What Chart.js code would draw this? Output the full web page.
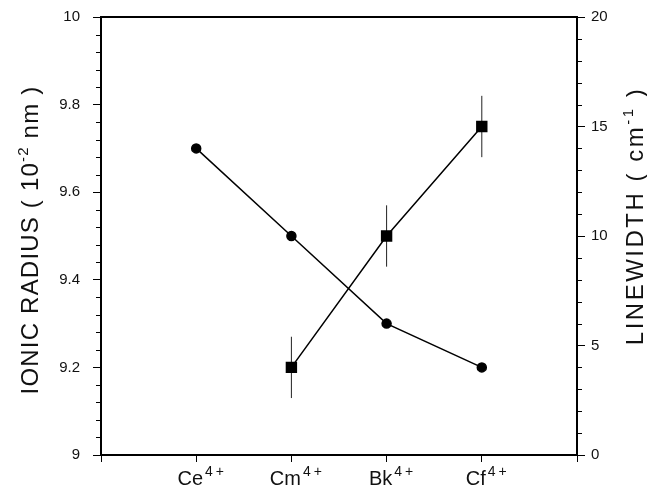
<!DOCTYPE html>
<html>
<head>
<meta charset="utf-8">
<script src="https://cdn.jsdelivr.net/npm/chart.js@4.4.1/dist/chart.umd.min.js"></script>
<style>
  html, body { margin: 0; padding: 0; background: #fff; }
  #wrap { width: 647px; height: 487px; }
</style>
</head>
<body>
<div id="wrap"><canvas id="ionChart" width="647" height="487"></canvas></div>
<script>
// ions along the x axis (blank slots at both ends)
var ions = ['Ce', 'Cm', 'Bk', 'Cf'];
var ionCharge = '4+';
var slots = [''].concat(ions, [' ']);

// ionic radius, 10^-2 nm (left axis)
var radius = [9.7, 9.5, 9.3, 9.2];

// linewidth, cm^-1 (right axis), only measured for Cm, Bk, Cf
var widthIons = ['Cm', 'Bk', 'Cf'];
var linewidth = [4, 10, 15];
var linewidthErr = [1.4, 1.4, 1.4];

var radiusTicks = { min: 9, max: 10, step: 0.2, minor: 0.04 };
var widthTicks = { min: 0, max: 20, step: 5, minor: 1 };

var FONT = '"Liberation Sans", Arial, Helvetica, sans-serif';

// keep the plot box fixed: no extra room for end labels
function noOverflow(s) {
  s.paddingTop = 0;
  s.paddingBottom = 0;
  s.paddingLeft = 0;
  s.paddingRight = 0;
}

// minor ticks, top frame line, error bars and the text with superscripts
var extras = {
  id: 'extras',
  beforeDatasetsDraw: function (chart) {
    var ctx = chart.ctx;
    var x = chart.scales.x, y2 = chart.scales.y2;
    ctx.save();
    ctx.strokeStyle = '#222';
    ctx.lineWidth = 1;
    for (var i = 0; i < widthIons.length; i++) {
      var px = x.getPixelForValue(slots.indexOf(widthIons[i]));
      ctx.beginPath();
      ctx.moveTo(px, y2.getPixelForValue(linewidth[i] + linewidthErr[i]));
      ctx.lineTo(px, y2.getPixelForValue(linewidth[i] - linewidthErr[i]));
      ctx.stroke();
    }
    ctx.restore();
  },
  afterDraw: function (chart) {
    var ctx = chart.ctx;
    var a = chart.chartArea;
    var x = chart.scales.x, y = chart.scales.y, y2 = chart.scales.y2;
    ctx.save();

    // top edge of the frame
    ctx.strokeStyle = '#000';
    ctx.lineWidth = 2;
    ctx.beginPath();
    ctx.moveTo(a.left - 1, a.top);
    ctx.lineTo(a.right + 1, a.top);
    ctx.stroke();

    // minor ticks
    ctx.lineWidth = 1;
    var v, p;
    for (v = radiusTicks.min; v <= radiusTicks.max + 1e-9; v += radiusTicks.minor) {
      var r = Math.round(v / radiusTicks.step * 1000) / 1000;
      if (Math.abs(r - Math.round(r)) < 1e-6) continue;
      p = Math.round(y.getPixelForValue(v)) + 0.5;
      ctx.beginPath();
      ctx.moveTo(a.left - 5, p);
      ctx.lineTo(a.left, p);
      ctx.stroke();
    }
    for (v = widthTicks.min; v <= widthTicks.max; v += widthTicks.minor) {
      if (v % widthTicks.step === 0) continue;
      p = Math.round(y2.getPixelForValue(v)) + 0.5;
      ctx.beginPath();
      ctx.moveTo(a.right, p);
      ctx.lineTo(a.right + 5, p);
      ctx.stroke();
    }

    ctx.fillStyle = '#111';
    ctx.textBaseline = 'alphabetic';

    // ion labels with charge superscript
    for (var i = 0; i < ions.length; i++) {
      var cx = x.getPixelForValue(i + 1) + 6;
      ctx.font = '20px ' + FONT;
      var wb = ctx.measureText(ions[i]).width;
      ctx.font = '14px ' + FONT;
      ctx.letterSpacing = '3px';
      var ws = ctx.measureText(ionCharge).width;
      var x0 = cx - (wb + 2 + ws) / 2;
      ctx.letterSpacing = '0px';
      ctx.font = '20px ' + FONT;
      ctx.textAlign = 'left';
      ctx.fillText(ions[i], x0, 485);
      ctx.font = '14px ' + FONT;
      ctx.letterSpacing = '3px';
      ctx.fillText(ionCharge, x0 + wb + 2, 476);
      ctx.letterSpacing = '0px';
    }

    // rotated axis titles: [text, superscript, text]
    function title(parts, bx, cy, size, spacing) {
      ctx.save();
      ctx.translate(bx, cy);
      ctx.rotate(-Math.PI / 2);
      ctx.letterSpacing = spacing + 'px';
      var big = size + 'px ' + FONT, small = Math.round(size * 0.62) + 'px ' + FONT;
      ctx.font = big; var w0 = ctx.measureText(parts[0]).width;
      ctx.font = small; var w1 = ctx.measureText(parts[1]).width;
      ctx.font = big; var w2 = ctx.measureText(parts[2]).width;
      var sx = -(w0 + w1 + w2) / 2;
      ctx.textAlign = 'left';
      ctx.font = big; ctx.fillText(parts[0], sx, 0);
      ctx.font = small; ctx.fillText(parts[1], sx + w0, -size * 0.42);
      ctx.font = big; ctx.fillText(parts[2], sx + w0 + w1, 0);
      ctx.restore();
    }
    title(['IONIC RADIUS ( 10', '-2', ' nm )'], 38, 240, 24, 1.2);
    title(['LINEWIDTH ( cm', '-1', ' )'], 643, 216, 24, 2.5);

    ctx.restore();
  }
};

var ionChart = new Chart(document.getElementById('ionChart'), {
  type: 'line',
  data: {
    labels: slots,
    datasets: [{
      label: 'Ionic radius',
      yAxisID: 'y',
      data: ions.map(function (c, i) { return { x: c, y: radius[i] }; }),
      borderColor: '#000',
      backgroundColor: '#000',
      borderWidth: 1.5,
      pointStyle: 'circle',
      pointRadius: 4.5,
      pointHoverRadius: 4.5,
      fill: false,
      tension: 0
    }, {
      label: 'Linewidth',
      yAxisID: 'y2',
      data: widthIons.map(function (c, i) { return { x: c, y: linewidth[i] }; }),
      borderColor: '#000',
      backgroundColor: '#000',
      borderWidth: 1.5,
      pointStyle: 'rect',
      pointRadius: 7,
      pointHoverRadius: 7,
      fill: false,
      tension: 0
    }]
  },
  options: {
    responsive: false,
    animation: false,
    events: [],
    layout: { padding: { top: 17, left: 0, right: 0, bottom: 0 } },
    plugins: {
      legend: { display: false },
      tooltip: { enabled: false },
      title: { display: false }
    },
    scales: {
      x: {
        type: 'category',
        offset: false,
        grid: { display: true, drawOnChartArea: false, drawTicks: true, tickLength: 7, color: '#000', lineWidth: 1 },
        border: { display: true, color: '#000', width: 2 },
        ticks: { display: false },
        afterFit: function (s) { noOverflow(s); s.height = 32; }
      },
      y: {
        position: 'left',
        min: radiusTicks.min,
        max: radiusTicks.max,
        grid: { display: true, drawOnChartArea: false, drawTicks: true, tickLength: 8, color: '#000', lineWidth: 1 },
        border: { display: true, color: '#000', width: 2 },
        ticks: {
          stepSize: radiusTicks.step,
          padding: 13,
          color: '#111',
          font: { family: FONT, size: 15 },
          callback: function (v) { return String(+v.toFixed(1)); }
        },
        afterFit: function (s) { noOverflow(s); s.width = 101; }
      },
      y2: {
        position: 'right',
        min: widthTicks.min,
        max: widthTicks.max,
        grid: { display: true, drawOnChartArea: false, drawTicks: true, tickLength: 8, color: '#000', lineWidth: 1 },
        border: { display: true, color: '#000', width: 2 },
        ticks: {
          stepSize: widthTicks.step,
          padding: 6,
          color: '#111',
          font: { family: FONT, size: 15 },
          callback: function (v) { return String(v); }
        },
        afterFit: function (s) { noOverflow(s); s.width = 70; }
      }
    }
  },
  plugins: [extras]
});
</script>
</body>
</html>
